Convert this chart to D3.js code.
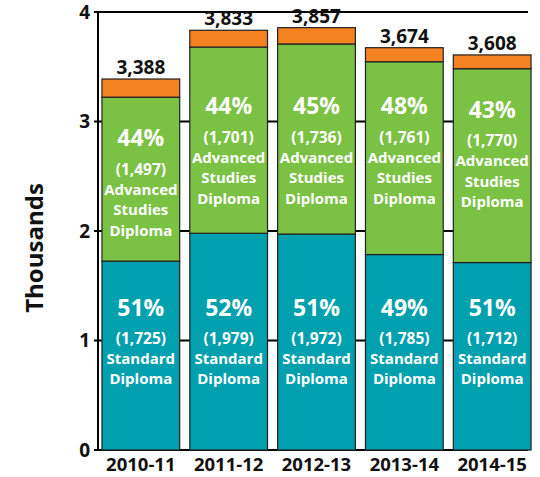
<!DOCTYPE html>
<html>
<head>
<meta charset="utf-8">
<script src="https://cdn.jsdelivr.net/npm/d3@7"></script>
<style>
  body { margin: 0; background: #fff; }
  svg { display: block; font-family: 'Open Sans', sans-serif; font-weight: 700; }
  .tick-label { font-size: 19px; fill: #111; }
  .year-label { font-size: 18.5px; fill: #111; }
  .total-label { font-size: 19px; fill: #111; }
  .pct { font-size: 23px; fill: #fff; }
  .inner { font-size: 15.5px; fill: #fff; }
  .name { font-size: 15px; fill: #fff; }
</style>
</head>
<body>
<div id="chart"></div>
<script>
const years = ['2010-11', '2011-12', '2012-13', '2013-14', '2014-15'];
const totals = [3388, 3833, 3857, 3674, 3608];
const standard = [1725, 1979, 1972, 1785, 1712];
const advanced = [1497, 1701, 1736, 1761, 1770];
const standardPct = [51, 52, 51, 49, 51];
const advancedPct = [44, 44, 45, 48, 43];
const yTicks = [0, 1, 2, 3, 4];

const width = 540;
const height = 477;
const margin = { top: 12, right: 5, bottom: 27, left: 98 };

const rows = years.map((year, i) => ({
  year,
  total: totals[i],
  standard: standard[i],
  advanced: advanced[i],
  other: totals[i] - standard[i] - advanced[i],
  standardPct: standardPct[i],
  advancedPct: advancedPct[i]
}));

const svg = d3.select('#chart').append('svg').attr('width', width).attr('height', height);

const x = d3.scaleBand().domain(years).range([margin.left, width - margin.right]).paddingInner(0.115).paddingOuter(0.045);
const y = d3.scaleLinear().domain([0, 4]).range([height - margin.bottom, margin.top]);
const fmt = d3.format(',');

// gridlines behind the bars
svg.append('g')
  .selectAll('line')
  .data(yTicks)
  .join('line')
  .attr('x1', margin.left)
  .attr('x2', width - 12)
  .attr('y1', (d) => y(d))
  .attr('y2', (d) => y(d))
  .attr('stroke', '#000')
  .attr('stroke-width', 2);

svg.append('line')
  .attr('x1', margin.left).attr('x2', margin.left)
  .attr('y1', y(4) - 1).attr('y2', y(0) + 1)
  .attr('stroke', '#000').attr('stroke-width', 2);

svg.append('g')
  .selectAll('line')
  .data(yTicks)
  .join('line')
  .attr('x1', margin.left - 4)
  .attr('x2', margin.left)
  .attr('y1', (d) => y(d))
  .attr('y2', (d) => y(d))
  .attr('stroke', '#000')
  .attr('stroke-width', 2);

svg.append('g')
  .selectAll('text')
  .data(yTicks)
  .join('text')
  .attr('class', 'tick-label')
  .attr('x', margin.left - 8)
  .attr('y', (d) => y(d))
  .attr('dy', '0.36em')
  .attr('text-anchor', 'end')
  .text((d) => d);

svg.append('text')
  .attr('transform', `translate(43,${y(2) + 17}) rotate(-90)`)
  .attr('text-anchor', 'middle')
  .attr('font-size', 24)
  .attr('fill', '#111')
  .text('Thousands');

const segments = [
  { key: 'standard', color: '#00a0ae', y0: (d) => 0, y1: (d) => d.standard },
  { key: 'advanced', color: '#7bc143', y0: (d) => d.standard, y1: (d) => d.standard + d.advanced },
  { key: 'other', color: '#f58220', y0: (d) => d.standard + d.advanced, y1: (d) => d.total }
];

const bars = svg.append('g')
  .selectAll('g')
  .data(rows)
  .join('g');

segments.forEach((s) => {
  bars.append('rect')
    .attr('x', (d) => x(d.year))
    .attr('width', x.bandwidth())
    .attr('y', (d) => y(s.y1(d) / 1000))
    .attr('height', (d) => y(s.y0(d) / 1000) - y(s.y1(d) / 1000))
    .attr('fill', s.color)
    .attr('stroke', '#222')
    .attr('stroke-width', 1.2);
});

bars.append('text')
  .attr('class', 'total-label')
  .attr('x', (d) => x(d.year) + x.bandwidth() / 2)
  .attr('y', (d) => y(d.total / 1000) - 5)
  .attr('text-anchor', 'middle')
  .text((d) => fmt(d.total));

// anchor = centre of the percentage line; the rest of the block hangs below it
function labelBlock(sel, anchor, pctKey, valueKey, lines) {
  const cx = (d) => x(d.year) + x.bandwidth() / 2;
  sel.append('text')
    .attr('class', 'pct')
    .attr('x', cx)
    .attr('y', anchor)
    .attr('dy', '0.36em')
    .attr('text-anchor', 'middle')
    .text((d) => d[pctKey] + '%');
  sel.append('text')
    .attr('class', 'inner')
    .attr('x', cx)
    .attr('y', (d) => anchor(d) + 31)
    .attr('dy', '0.36em')
    .attr('text-anchor', 'middle')
    .text((d) => `(${fmt(d[valueKey])})`);
  lines.forEach((line, i) => {
    sel.append('text')
      .attr('class', 'name')
      .attr('x', cx)
      .attr('y', (d) => anchor(d) + 51 + i * 20.5)
      .attr('dy', '0.36em')
      .attr('text-anchor', 'middle')
      .text(line);
  });
}

labelBlock(bars, () => y(1) - 33, 'standardPct', 'standard', ['Standard', 'Diploma']);
labelBlock(bars, (d) => Math.max(y((d.standard + d.advanced) / 1000) + 41, y(2.72) - 46),
  'advancedPct', 'advanced', ['Advanced', 'Studies', 'Diploma']);

svg.append('g')
  .selectAll('text')
  .data(years)
  .join('text')
  .attr('class', 'year-label')
  .attr('x', (d) => x(d) + x.bandwidth() / 2)
  .attr('y', y(0) + 21)
  .attr('text-anchor', 'middle')
  .text((d) => d);
</script>
</body>
</html>
